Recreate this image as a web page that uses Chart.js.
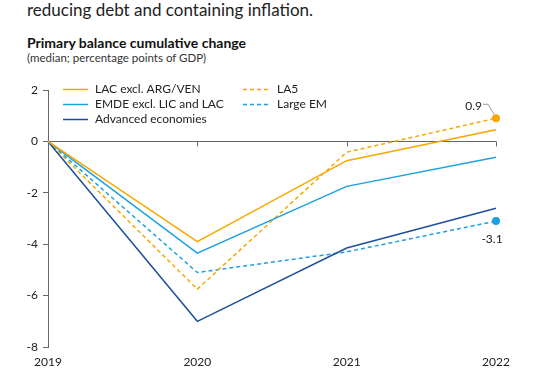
<!DOCTYPE html>
<html>
<head>
<meta charset="utf-8">
<script src="https://cdn.jsdelivr.net/npm/chart.js@4/dist/chart.umd.min.js"></script>
<style>
  body { margin: 0; background: #fff; font-family: Lato, "Noto Sans", sans-serif; color: #222; }
  #wrap { position: relative; width: 539px; height: 375px; overflow: hidden; }
  #lead { position: absolute; left: 27px; top: -1px; font-size: 17px; color: #222; }
  #title { position: absolute; left: 27px; top: 34px; font-size: 14px; font-weight: bold; color: #111; }
  #sub { position: absolute; left: 27px; top: 51px; font-size: 11.5px; color: #333; }
  #box { position: absolute; left: 0; top: 70px; width: 539px; height: 305px; }
</style>
</head>
<body>
<div id="wrap">
  <div id="lead">reducing debt and containing inflation.</div>
  <div id="title">Primary balance cumulative change</div>
  <div id="sub">(median; percentage points of GDP)</div>
  <div id="box"><canvas id="chart"></canvas></div>
</div>
<script>
// years on the x axis
years = ["2019", "2020", "2021", "2022"];

// series
lac_excl = [0, -3.9, -0.75, 0.45];
emde_excl = [0, -4.35, -1.75, -0.62];
advanced = [0, -7.0, -4.15, -2.6];
la5 = [0, -5.75, -0.42, 0.9];
large_em = [0, -5.1, -4.3, -3.1];

seriesNames = ["LAC excl. ARG/VEN", "EMDE excl. LIC and LAC", "Advanced economies", "LA5", "Large EM"];

const ORANGE = "#f6a800";
const LBLUE = "#1ba1e2";
const DBLUE = "#1d4f9f";

// last point marker only on the dashed series
function lastOnly(arr, r) {
  return arr.map((v, i) => i == arr.length - 1 ? r : 0);
}

// draw zero line ticks, legend and value labels
const extras = {
  id: 'extras',
  afterDatasetsDraw(chart) {
    const ctx = chart.ctx;
    const x = chart.scales.x;
    const y = chart.scales.y;
    const y0 = y.getPixelForValue(0);

    ctx.save();
    ctx.strokeStyle = "#666";
    ctx.lineWidth = 1;
    for (let i = 1; i < years.length; i++) {
      const px = Math.round(x.getPixelForValue(i)) + 0.5;
      ctx.beginPath();
      ctx.moveTo(px, y0);
      ctx.lineTo(px, y0 + 5);
      ctx.stroke();
    }

    // legend
    const ds = chart.data.datasets;
    const cols = [[63, 95], [243, 277]];
    const rows = [19, 34, 49];
    ctx.font = "12px Lato, 'Noto Sans', sans-serif";
    ctx.textBaseline = "middle";
    ctx.textAlign = "left";
    for (let i = 0; i < ds.length; i++) {
      const c = i < 3 ? cols[0] : cols[1];
      const r = i < 3 ? rows[i] : rows[i - 3];
      ctx.strokeStyle = ds[i].borderColor;
      ctx.lineWidth = 1.5;
      ctx.setLineDash(ds[i].borderDash || []);
      ctx.beginPath();
      ctx.moveTo(c[0], r + 0.5);
      ctx.lineTo(c[0] + 25, r + 0.5);
      ctx.stroke();
      ctx.setLineDash([]);
      ctx.fillStyle = "#222";
      ctx.fillText(ds[i].label, c[1], r);
    }

    // value labels
    const last = years.length - 1;
    const pxl = x.getPixelForValue(last);
    const pyA = y.getPixelForValue(la5[last]);
    const pyB = y.getPixelForValue(large_em[last]);
    ctx.fillStyle = "#222";
    ctx.font = "12px Lato, 'Noto Sans', sans-serif";
    ctx.textAlign = "right";
    ctx.fillText(la5[last].toFixed(1), pxl - 14, pyA - 12);
    ctx.strokeStyle = "#999";
    ctx.lineWidth = 1;
    ctx.beginPath();
    ctx.moveTo(pxl - 13, pyA - 14);
    ctx.lineTo(pxl - 8, pyA - 14);
    ctx.lineTo(pxl - 2, pyA - 4);
    ctx.stroke();
    ctx.textAlign = "center";
    ctx.fillText(large_em[last].toFixed(1), pxl - 4, pyB + 18);
    ctx.restore();
  }
};

const data = {
  labels: years,
  datasets: [{
    label: seriesNames[0],
    data: lac_excl,
    borderColor: ORANGE,
    pointRadius: 0,
  }, {
    label: seriesNames[1],
    data: emde_excl,
    borderColor: LBLUE,
    pointRadius: 0,
  }, {
    label: seriesNames[2],
    data: advanced,
    borderColor: DBLUE,
    pointRadius: 0,
  }, {
    label: seriesNames[3],
    data: la5,
    borderColor: ORANGE,
    backgroundColor: ORANGE,
    borderDash: [4, 3],
    pointRadius: lastOnly(la5, 4),
  }, {
    label: seriesNames[4],
    data: large_em,
    borderColor: LBLUE,
    backgroundColor: LBLUE,
    borderDash: [4, 3],
    pointRadius: lastOnly(large_em, 4),
  }]
};

const options = {
  responsive: true,
  maintainAspectRatio: false,
  animation: false,
  layout: { padding: { top: 20, right: 43, bottom: 0, left: 0 } },
  elements: {
    line: { borderWidth: 1.5, tension: 0 },
    point: { borderWidth: 0, hoverRadius: 0 }
  },
  plugins: {
    legend: { display: false },
    tooltip: { enabled: false }
  },
  scales: {
    x: {
      offset: false,
      grid: { display: false },
      border: { display: false },
      ticks: {
        color: "#222",
        font: { family: "Lato, 'Noto Sans', sans-serif", size: 12 },
        maxRotation: 0,
        padding: 0,
      },
      afterFit: function(scale) { scale.height = 28; }
    },
    y: {
      min: -8,
      max: 2,
      grid: {
        color: c => c.tick.value === 0 ? "#666" : "transparent",
        tickColor: "#666",
        tickLength: 5,
      },
      border: { display: true, color: "#666" },
      ticks: {
        stepSize: 2,
        color: "#222",
        font: { family: "Lato, 'Noto Sans', sans-serif", size: 12 },
        padding: 5,
      },
      afterFit: function(scale) { scale.width = 48; }
    }
  }
};

const ctx = document.getElementById('chart').getContext('2d');
myChart = new Chart(ctx, {
  type: 'line',
  data: data,
  options: options,
  plugins: [extras],
});
</script>
</body>
</html>
